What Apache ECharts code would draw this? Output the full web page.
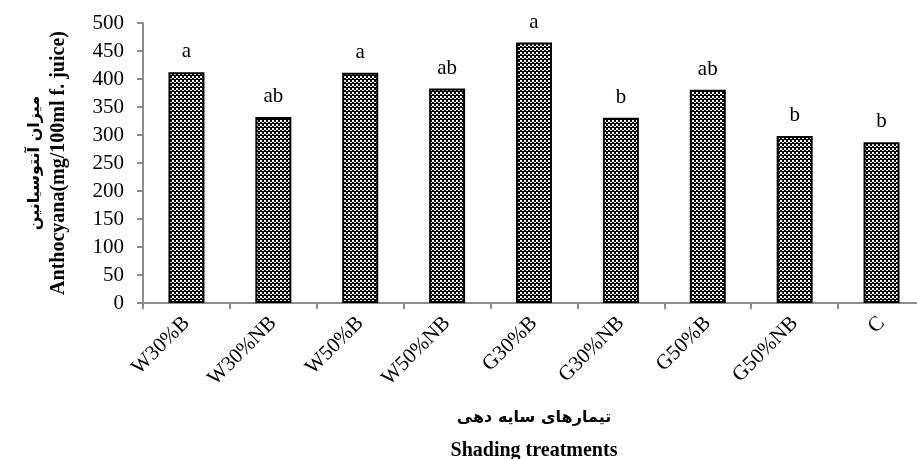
<!DOCTYPE html>
<html>
<head>
<meta charset="utf-8">
<script src="https://cdn.jsdelivr.net/npm/echarts@6/dist/echarts.min.js"></script>
<style>
html,body{margin:0;padding:0;background:#fff;}
#chart{width:917px;height:459px;}
</style>
</head>
<body>
<div id="chart"></div>
<script>
const categories = ['W30%B','W30%NB','W50%B','W50%NB','G30%B','G30%NB','G50%B','G50%NB','C'];
const anthocyanin = [412, 332, 411, 383, 465, 331, 381, 298, 287];
const letters = ['a','ab','a','ab','a','b','ab','b','b'];
const yTicks = {min: 0, max: 500, interval: 50};

function makePattern(){
  const c = document.createElement('canvas');
  c.width = 4; c.height = 4;
  const g = c.getContext('2d');
  g.fillStyle = '#000'; g.fillRect(0,0,4,4);
  g.fillStyle = '#fff';
  g.fillRect(0,0,2,2);
  g.fillRect(2,2,2,1);
  return c;
}

const chart = echarts.init(document.getElementById('chart'));
chart.setOption({
  animation: false,
  backgroundColor: '#fff',
  grid: {left: 143, top: 23, width: 782, height: 280, containLabel: false, outerBoundsMode: 'none'},
  xAxis: {
    type: 'category',
    data: categories,
    boundaryGap: true,
    axisLine: {lineStyle: {color: '#8c8c8c', width: 2}},
    axisTick: {show: true, length: 6, lineStyle: {color: '#8c8c8c', width: 2}},
    axisLabel: {rotate: 45, margin: 17, color: '#000', fontFamily: 'Liberation Serif', fontSize: 21},
    name: '{fa|تیمارهای سایه دهی}\n{en|Shading treatments}',
    nameLocation: 'middle',
    nameGap: 98,
    nameTextStyle: {
      rich: {
        fa: {fontFamily: 'DejaVu Sans', fontWeight: 'bold', fontSize: 16, color: '#000', lineHeight: 34},
        en: {fontFamily: 'Liberation Serif', fontWeight: 'bold', fontSize: 20, color: '#000', lineHeight: 32}
      }
    }
  },
  yAxis: {
    type: 'value',
    min: yTicks.min, max: yTicks.max, interval: yTicks.interval,
    splitLine: {show: false},
    axisLine: {show: true, lineStyle: {color: '#8c8c8c', width: 2}},
    axisTick: {show: true, length: 6, lineStyle: {color: '#8c8c8c', width: 2}},
    axisLabel: {margin: 19, color: '#000', fontFamily: 'Liberation Serif', fontSize: 21},
    name: '{fa|میزان آنتوسیانین}\n{en|Anthocyana(mg/100ml f. juice)}',
    nameLocation: 'middle',
    nameGap: 72,
    nameRotate: 90,
    nameTextStyle: {
      rich: {
        fa: {fontFamily: 'DejaVu Sans', fontWeight: 'bold', fontSize: 16, color: '#000', lineHeight: 24},
        en: {fontFamily: 'Liberation Serif', fontWeight: 'bold', fontSize: 20, color: '#000', lineHeight: 24}
      }
    }
  },
  series: [{
    type: 'bar',
    data: anthocyanin,
    barWidth: 36,
    itemStyle: {
      color: {image: makePattern(), repeat: 'repeat'},
      borderColor: '#000',
      borderWidth: 2
    },
    label: {
      show: true,
      position: 'top',
      distance: 10,
      color: '#000',
      fontFamily: 'Liberation Serif',
      fontSize: 21,
      formatter: p => letters[p.dataIndex]
    }
  }]
});
</script>
</body>
</html>
